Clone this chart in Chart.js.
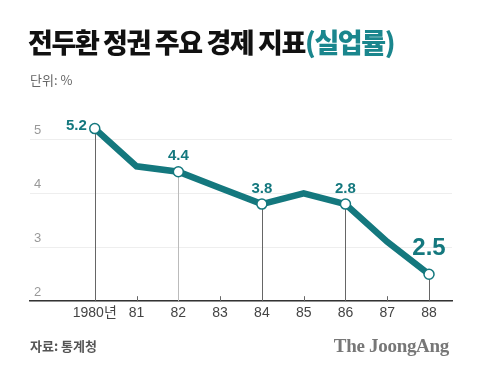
<!DOCTYPE html>
<html>
<head>
<meta charset="utf-8">
<script src="https://cdn.jsdelivr.net/npm/chart.js@4"></script>
<style>
  body { margin: 0; background: #fff; }
  .wrap { position: relative; width: 480px; height: 372px; overflow: hidden; font-family: "Noto Sans CJK KR", sans-serif; }
  #chart { position: absolute; left: 0; top: 0; }
  .title { position: absolute; left: 28px; top: 25px; font-size: 27px; font-weight: 900; letter-spacing: -1.4px; color: #111; line-height: 34px; white-space: nowrap; }
  .title span { color: #1a868d; }
  .unit { position: absolute; left: 30px; top: 70px; font-size: 13px; color: #666; line-height: 20px; }
  .source { position: absolute; left: 30px; top: 336px; font-size: 13px; font-weight: 700; color: #555; line-height: 20px; }
  .logo { position: absolute; right: 31px; top: 334px; font-family: "Liberation Serif", serif; font-size: 19px; font-weight: 700; color: #777; line-height: 24px; letter-spacing: -0.3px; }
</style>
</head>
<body>
<div class="wrap">
  <canvas id="chart" width="480" height="372"></canvas>
  <div class="title">전두환 정권 주요 경제 지표<span>(실업률)</span></div>
  <div class="unit">단위: %</div>
  <div class="source">자료: 통계청</div>
  <div class="logo">The JoongAng</div>
</div>
<script>
const years = [1980, 1981, 1982, 1983, 1984, 1985, 1986, 1987, 1988];
const yearLabels = ['1980년', '81', '82', '83', '84', '85', '86', '87', '88'];
const rates = [5.2, 4.5, 4.4, 4.1, 3.8, 4.0, 3.8, 3.1, 2.5];
const pointLabels = ['5.2', '', '4.4', '', '3.8', '', '2.8', '', '2.5'];
const yTicks = [2, 3, 4, 5];

const teal = '#14787e';

// drop lines from labelled points + small ticks above the axis
const guides = {
  id: 'guides',
  beforeDatasetsDraw(chart) {
    const ctx = chart.ctx;
    const x = chart.scales.x;
    const y = chart.scales.y;
    const base = y.getPixelForValue(2);
    ctx.save();
    ctx.lineWidth = 1;
    years.forEach((yr, i) => {
      const px = Math.round(x.getPixelForValue(yr)) + 0.5;
      ctx.beginPath();
      if (pointLabels[i]) {
        ctx.strokeStyle = i == 2 ? '#bbb' : '#666';
        ctx.moveTo(px, y.getPixelForValue(rates[i]));
      } else {
        ctx.strokeStyle = '#666';
        ctx.moveTo(px, base - 5);
      }
      ctx.lineTo(px, base);
      ctx.stroke();
    });
    ctx.restore();
  },
  afterDatasetsDraw(chart) {
    const ctx = chart.ctx;
    const meta = chart.getDatasetMeta(0);
    ctx.save();
    ctx.fillStyle = teal;
    ctx.textBaseline = 'bottom';
    meta.data.forEach((pt, i) => {
      const txt = pointLabels[i];
      if (!txt) return;
      if (i == 0) {
        ctx.font = 'bold 15px "Liberation Sans", sans-serif';
        ctx.textAlign = 'right';
        ctx.fillText(txt, pt.x - 8, pt.y + 5);
      } else if (i == years.length - 1) {
        ctx.font = 'bold 24px "Liberation Sans", sans-serif';
        ctx.textAlign = 'center';
        ctx.fillText(txt, pt.x, pt.y - 14);
      } else {
        ctx.font = 'bold 15px "Liberation Sans", sans-serif';
        ctx.textAlign = 'center';
        ctx.fillText(txt, pt.x, pt.y - 8);
      }
    });
    ctx.restore();
  }
};

new Chart(document.getElementById('chart'), {
  type: 'line',
  data: {
    datasets: [{
      data: years.map((yr, i) => ({ x: yr, y: rates[i] })),
      borderColor: teal,
      borderWidth: 6.5,
      borderJoinStyle: 'miter',
      pointRadius: pointLabels.map(l => l ? 5 : 0),
      pointBackgroundColor: '#fff',
      pointBorderColor: teal,
      pointBorderWidth: 1.5,
      tension: 0,
      clip: false
    }]
  },
  options: {
    responsive: false,
    animation: false,
    events: [],
    layout: { padding: { left: 22, right: 28, top: 107, bottom: 46 } },
    plugins: { legend: { display: false }, tooltip: { enabled: false } },
    scales: {
      x: {
        type: 'linear',
        min: 1978.45,
        max: 1988.55,
        afterBuildTicks: s => { s.ticks = years.map(v => ({ value: v })); },
        grid: { display: false, drawTicks: false },
        border: { color: '#333', width: 1.5 },
        ticks: {
          color: '#444',
          padding: 4,
          font: { family: '"Liberation Sans", "Noto Sans CJK KR", sans-serif', size: 14 },
          callback: v => yearLabels[years.indexOf(v)]
        }
      },
      y: {
        min: 2,
        max: 5.6,
        afterBuildTicks: s => { s.ticks = yTicks.map(v => ({ value: v })); },
        border: { display: false },
        grid: { color: '#eeeeee', drawTicks: false },
        ticks: {
          mirror: true,
          padding: 4,
          labelOffset: -9,
          color: '#999',
          font: { family: '"Liberation Sans", sans-serif', size: 13 }
        }
      }
    }
  },
  plugins: [guides]
});
</script>
</body>
</html>
